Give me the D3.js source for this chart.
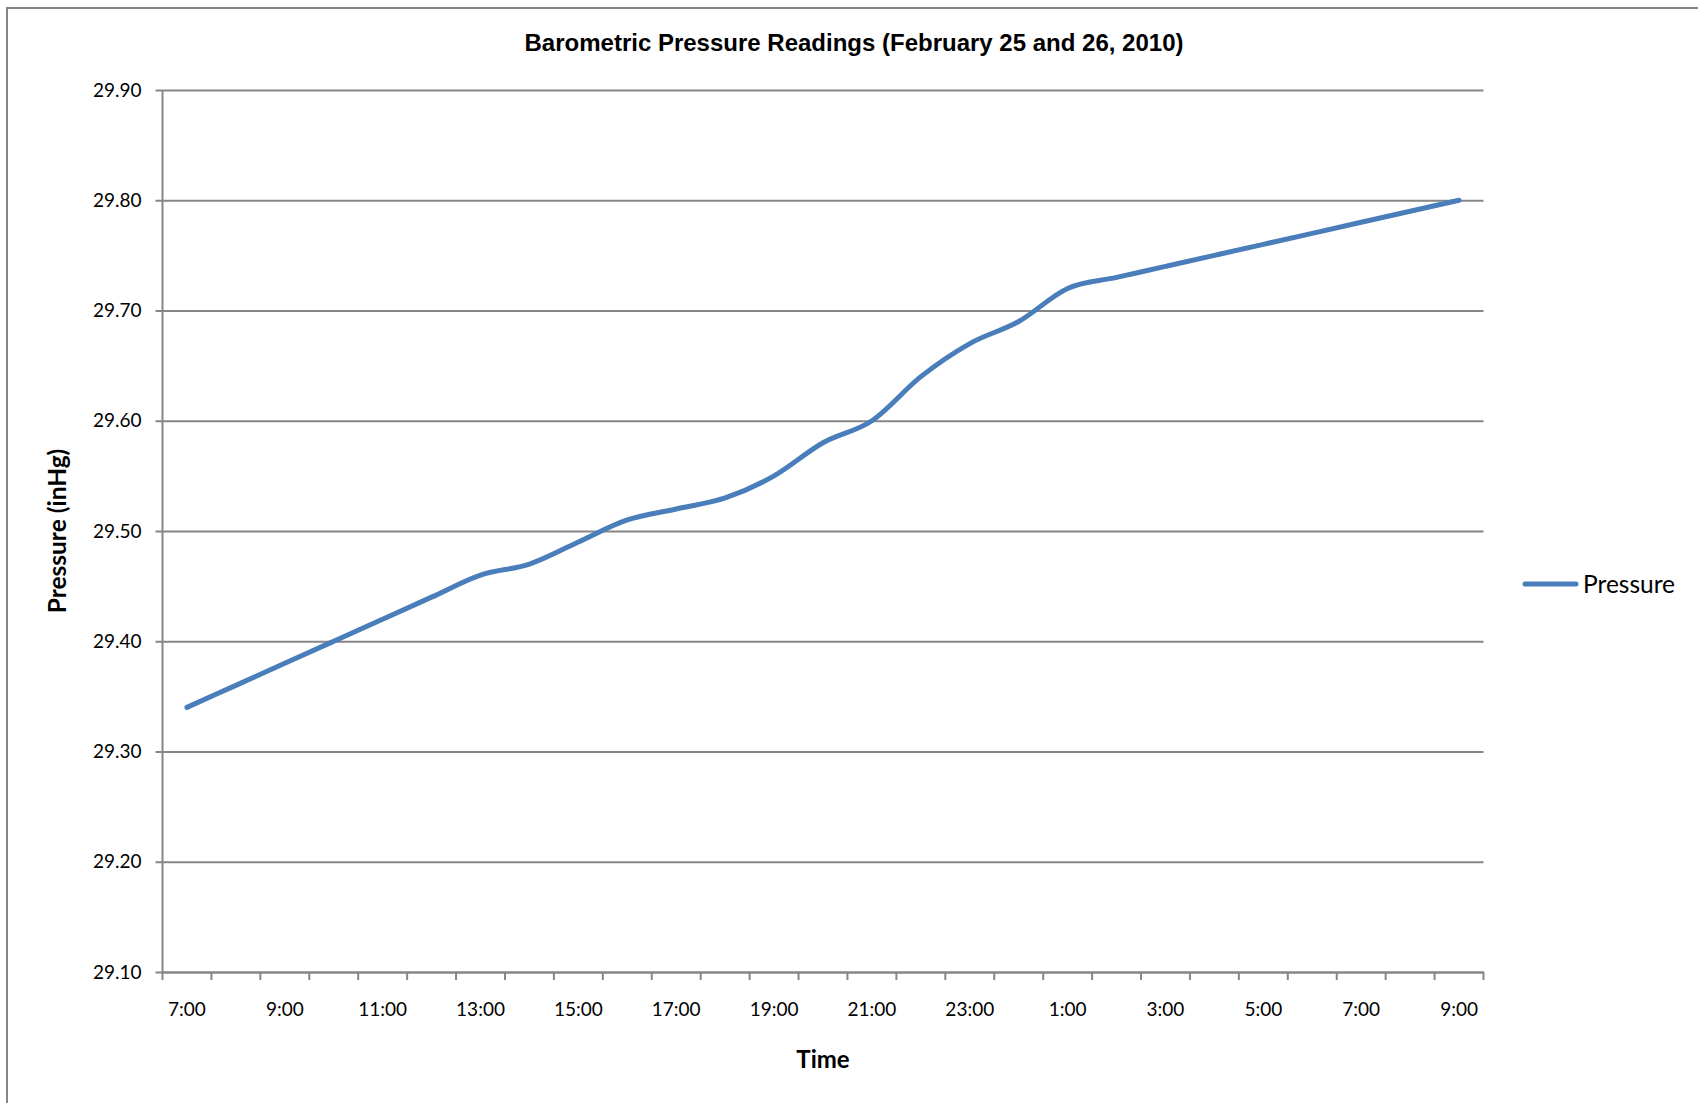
<!DOCTYPE html>
<html>
<head>
<meta charset="utf-8">
<script src="https://cdn.jsdelivr.net/npm/d3@7"></script>
<style>
  body { margin: 0; background: #fff; }
  svg { display: block; }
</style>
</head>
<body>
<svg id="chart" width="1698" height="1103"></svg>
<script>
// hourly readings, Feb 25 7:00 -> Feb 26 9:00
const hours = ["7:00", "8:00", "9:00", "10:00", "11:00", "12:00", "13:00", "14:00",
  "15:00", "16:00", "17:00", "18:00", "19:00", "20:00", "21:00", "22:00", "23:00",
  "0:00", "1:00", "2:00", "3:00", "4:00", "5:00", "6:00", "7:00", "8:00", "9:00"];
const pressure = [29.34, 29.36, 29.38, 29.40, 29.42, 29.44, 29.46, 29.47,
  29.49, 29.51, 29.52, 29.53, 29.55, 29.58, 29.60, 29.64, 29.67,
  29.69, 29.72, 29.73, 29.74, 29.75, 29.76, 29.77, 29.78, 29.79, 29.80];
const yTicks = [29.10, 29.20, 29.30, 29.40, 29.50, 29.60, 29.70, 29.80, 29.90];

const margin = { top: 90, right: 214.5, bottom: 131, left: 162.5 };
const W = 1698, H = 1103;
const width = W - margin.left - margin.right;
const height = H - margin.top - margin.bottom;
const gridColor = "#868686";
const font = "Lato, 'Open Sans', sans-serif";

const svg = d3.select("#chart");

// chart frame (runs off the right and bottom of the picture)
svg.append("rect")
  .attr("x", 7).attr("y", 8)
  .attr("width", W + 20).attr("height", H + 20)
  .attr("fill", "#fff")
  .attr("stroke", gridColor)
  .attr("stroke-width", 2);

svg.append("text")
  .attr("x", 854).attr("y", 51)
  .attr("text-anchor", "middle")
  .style("font-family", "'Liberation Sans', Arial, sans-serif")
  .style("font-weight", "bold")
  .style("font-size", "24px")
  .text("Barometric Pressure Readings (February 25 and 26, 2010)");

const g = svg.append("g")
  .attr("transform", `translate(${margin.left},${margin.top})`);

// category axis: each hour is a band, ticks sit between bands
const keys = hours.map((h, i) => i);
const xScale = d3.scaleBand().domain(keys).range([0, width]).padding(0);
const yScale = d3.scaleLinear().domain([29.10, 29.90]).range([height, 0]);

// gridlines + y axis
const yAxis = g.append("g")
  .call(d3.axisLeft(yScale)
    .tickValues(yTicks)
    .tickSize(7)
    .tickPadding(7)
    .tickFormat(d3.format(".2f")));
yAxis.select(".domain").remove();
yAxis.selectAll(".tick line")
  .attr("x2", width)
  .attr("x1", -7)
  .attr("stroke", gridColor)
  .attr("stroke-width", 2);
yAxis.selectAll(".tick text")
  .attr("x", -21)
  .style("font-family", font)
  .style("font-size", "19px")
  .attr("fill", "#000");

g.append("line")
  .attr("x1", 0).attr("x2", 0)
  .attr("y1", 0).attr("y2", height)
  .attr("stroke", gridColor)
  .attr("stroke-width", 2);

// x axis labels every other hour
const xAxis = g.append("g")
  .attr("transform", `translate(0,${height})`)
  .call(d3.axisBottom(xScale)
    .tickValues(keys.filter((k) => k % 2 === 0))
    .tickSize(0)
    .tickPadding(31)
    .tickFormat((k) => hours[k]));
xAxis.select(".domain")
  .attr("stroke", gridColor)
  .attr("stroke-width", 2);
xAxis.selectAll(".tick text")
  .style("font-family", font)
  .style("font-size", "19px")
  .attr("fill", "#000");

const bounds = keys.map((k) => xScale(k)).concat([width]);
g.append("g")
  .selectAll("line")
  .data(bounds)
  .enter()
  .append("line")
  .attr("x1", (d) => d).attr("x2", (d) => d)
  .attr("y1", height).attr("y2", height + 8)
  .attr("stroke", gridColor)
  .attr("stroke-width", 2);

// the series, smoothed like the spreadsheet line
const line = d3.line()
  .x((d, i) => xScale(i) + xScale.bandwidth() / 2)
  .y((d) => yScale(d))
  .curve(d3.curveCardinal.tension(0));

g.append("path")
  .datum(pressure)
  .attr("d", line)
  .attr("fill", "none")
  .attr("stroke", "#4a7ebb")
  .attr("stroke-width", 5)
  .attr("stroke-linecap", "round")
  .attr("stroke-linejoin", "round");

// axis titles
svg.append("text")
  .attr("transform", "translate(66,531) rotate(-90)")
  .attr("text-anchor", "middle")
  .style("font-family", font)
  .style("font-weight", "bold")
  .style("font-size", "24.5px")
  .text("Pressure (inHg)");

svg.append("text")
  .attr("x", 823).attr("y", 1068)
  .attr("text-anchor", "middle")
  .style("font-family", font)
  .style("font-weight", "bold")
  .style("font-size", "24px")
  .text("Time");

// legend
const legend = svg.append("g").attr("transform", "translate(1525,584)");
legend.append("line")
  .attr("x1", 0).attr("x2", 51)
  .attr("stroke", "#4a7ebb")
  .attr("stroke-width", 5)
  .attr("stroke-linecap", "round");
legend.append("text")
  .attr("x", 58).attr("y", 0)
  .attr("dy", "0.35em")
  .style("font-family", font)
  .style("font-size", "24.5px")
  .text("Pressure");
</script>
</body>
</html>
